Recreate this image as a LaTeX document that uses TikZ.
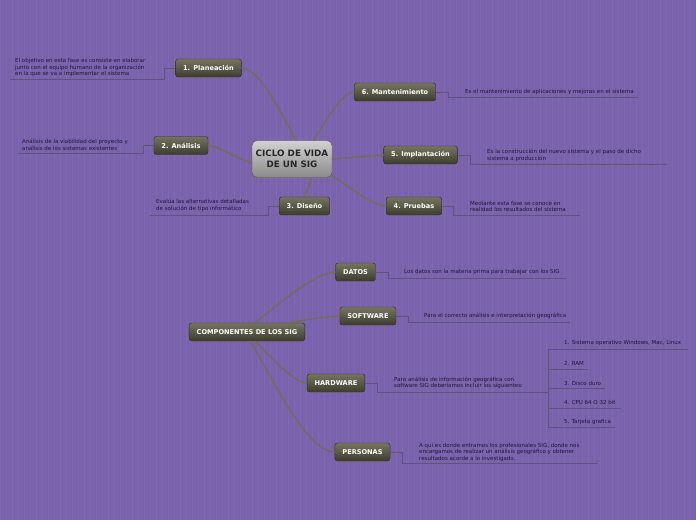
\documentclass[tikz,border=0pt]{standalone}
\usepackage{fontspec}
\setmainfont{DejaVu Sans}
\usetikzlibrary{shadows}
\definecolor{fondo}{HTML}{7A62AD}
\definecolor{rejilla}{HTML}{8069B1}
\definecolor{ramac}{HTML}{736D55}
\definecolor{lineac}{HTML}{5E5579}
\definecolor{notac}{HTML}{1E1836}
\definecolor{cajaa}{HTML}{75745F}
\definecolor{cajab}{HTML}{3D3D30}
\definecolor{centroa}{HTML}{D2D2D2}
\definecolor{centrob}{HTML}{8A8A8A}

\begin{document}
\begin{tikzpicture}[x=1pt, y=-1pt,
      etapa/.style={rounded corners=2.5pt, draw=cajab!70!black, line width=0.4pt,
                    top color=cajaa, bottom color=cajab, text=white,
                    font=\fontsize{6.6}{7}\selectfont\bfseries,
                    minimum height=18pt, inner xsep=7.5pt,
                    drop shadow={opacity=0.35, shadow xshift=0.8pt, shadow yshift=-1.2pt}},
      centro/.style={rounded corners=5pt, draw=gray!60!black, line width=0.4pt,
                     top color=centroa, bottom color=centrob, text=black!85,
                     font=\fontsize{8.8}{11}\selectfont\bfseries, align=center,
                     minimum width=80pt, minimum height=37pt,
                     drop shadow={opacity=0.35, shadow xshift=0.8pt, shadow yshift=-1.5pt}},
      nota/.style={anchor=west, align=left, inner sep=0pt, text=notac,
                   font=\fontsize{5.5}{6.6}\selectfont},
      rama/.style={draw=ramac, line width=1.3pt, line cap=round, looseness=0.55},
      linea/.style={draw=lineac, line width=0.7pt}]
    \useasboundingbox (0,0) rectangle (696,520);
    \fill[fondo] (0,0) rectangle (696,520);
    \draw[rejilla, line width=0.3pt] (0,0) grid[step=6] (696,520);

    % ciclo de vida
    \node[centro] (ciclo) at (292,159) {CICLO DE VIDA\\DE UN SIG};
    \node[etapa] (plan) at (208.5,68) {1. Planeación};
    \node[etapa] (anal) at (181,145.5) {2. Análisis};
    \node[etapa] (dise) at (304.5,206) {3. Diseño};
    \node[etapa] (prue) at (414,206) {4. Pruebas};
    \node[etapa] (impl) at (420.5,155) {5. Implantación};
    \node[etapa] (mant) at (395,92) {6. Mantenimiento};

    \draw[rama] ([xshift=4pt]ciclo.north) to[out=120, in=0] (plan.east);
    \draw[rama] ([yshift=-4pt]ciclo.west) to[out=170, in=0] (anal.east);
    \draw[rama] ([xshift=20pt]ciclo.south) -- (dise.north);
    \draw[rama] ([yshift=2pt]ciclo.south east) to[out=-32, in=180] (prue.west);
    \draw[rama] (ciclo.east) -- (impl.west);
    \draw[rama] ([xshift=22pt]ciclo.north) to[out=58, in=180] (mant.west);

    \node[nota] (nplan) at (15,67.5) {El objetivo en esta fase es consiste en elaborar\\
      junto con el equipo humano de la organización\\en la que se va a implementar el sistema};
    \node[nota] (nanal) at (22,145) {Análisis de la viabilidad del proyecto y\\
      análisis de los sistemas existentes};
    \node[nota] (ndise) at (156,205.5) {Evalúa las alternativas detalladas\\
      de solución de tipo informático};
    \node[nota] (nmant) at (465,92) {Es el mantenimiento de aplicaciones y mejoras en el sistema};
    \node[nota] (nimpl) at (487,155.5) {Es la construcción del nuevo sistema y el paso de dicho\\
      sistema a producción};
    \node[nota] (nprue) at (470,206.5) {Mediante esta fase se conoce en\\
      realidad los resultados del sistema};

    \coordinate (u1a) at (164,79);   \coordinate (u1b) at (10,79);
    \coordinate (u2a) at (143,153);  \coordinate (u2b) at (18,153);
    \coordinate (u3a) at (268,215);  \coordinate (u3b) at (150,215);
    \coordinate (u6a) at (448,97.5); \coordinate (u6b) at (638,97.5);
    \coordinate (u5a) at (470,164.5);\coordinate (u5b) at (667,164.5);
    \coordinate (u4a) at (453,215.5);\coordinate (u4b) at (580,215.5);
    \draw[linea] (plan.west) -| (u1a) -- (u1b);
    \draw[linea] (anal.west) -| (u2a) -- (u2b);
    \draw[linea] (dise.west) -| (u3a) -- (u3b);
    \draw[linea] (mant.east) -| (u6a) -- (u6b);
    \draw[linea] (impl.east) -| (u5a) -- (u5b);
    \draw[linea] (prue.east) -| (u4a) -- (u4b);

    % componentes
    \node[etapa] (comp) at (247,332) {COMPONENTES DE LOS SIG};
    \node[etapa] (datos) at (355.5,272) {DATOS};
    \node[etapa] (soft) at (368,316) {SOFTWARE};
    \node[etapa] (hard) at (336,383) {HARDWARE};
    \node[etapa] (pers) at (362.5,452) {PERSONAS};

    \draw[rama] ([xshift=8pt]comp.north) to[out=38, in=180] (datos.west);
    \draw[rama] ([xshift=42pt]comp.north) to[out=12, in=180] (soft.west);
    \draw[rama] ([xshift=8pt]comp.south) to[out=-42, in=180] (hard.west);
    \draw[rama] ([xshift=3pt]comp.south) to[out=-56, in=180] (pers.west);

    \node[nota] (ndatos) at (404,272) {Los datos son la materia prima para trabajar con los SIG};
    \node[nota] (nsoft) at (424,316) {Para el correcto análisis e interpretación geográfica};
    \node[nota] (nhard) at (394,383) {Para análisis de información geográfica con\\
      software SIG deberíamos incluir los siguientes:};
    \node[nota] (npers) at (419,452) {A quí es donde entramos los profesionales SIG, donde nos\\
      encargamos de realizar un análisis geográfico y obtener\\resultados acorde a lo investigado.};

    \coordinate (uDa) at (388,278);  \coordinate (uDb) at (566,278);
    \coordinate (uSa) at (408,322);  \coordinate (uSb) at (570,322);
    \coordinate (uHa) at (377,392);  \coordinate (uHb) at (548,392);
    \coordinate (uPa) at (402,463.5);\coordinate (uPb) at (598,463.5);
    \draw[linea] (datos.east) -| (uDa) -- (uDb);
    \draw[linea] (soft.east) -| (uSa) -- (uSb);
    \draw[linea] (hard.east) -| (uHa) -- (uHb);
    \draw[linea] (pers.east) -| (uPa) -- (uPb);

    % lista de hardware
    \node[nota] (h1) at (564,343) {1. Sistema operativo Windows, Mac, Linux};
    \node[nota] (h2) at (564,363) {2. RAM};
    \node[nota] (h3) at (564,383) {3. Disco duro};
    \node[nota] (h4) at (564,402) {4. CPU 64 O 32 bit};
    \node[nota] (h5) at (564,422) {5. Tarjeta grafica};

    \coordinate (e1) at (548,349);   \coordinate (f1) at (688,349);
    \coordinate (e2) at (548,369);   \coordinate (f2) at (588,369);
    \coordinate (e3) at (548,388.5); \coordinate (f3) at (605,388.5);
    \coordinate (e4) at (548,408);   \coordinate (f4) at (621,408);
    \coordinate (e5) at (548,427.5); \coordinate (f5) at (615,427.5);
    \draw[linea] (e1) -- (e5);
    \draw[linea] (e1) -- (f1);
    \draw[linea] (e2) -- (f2);
    \draw[linea] (e3) -- (f3);
    \draw[linea] (e4) -- (f4);
    \draw[linea] (e5) -- (f5);
  \end{tikzpicture}
\end{document}
